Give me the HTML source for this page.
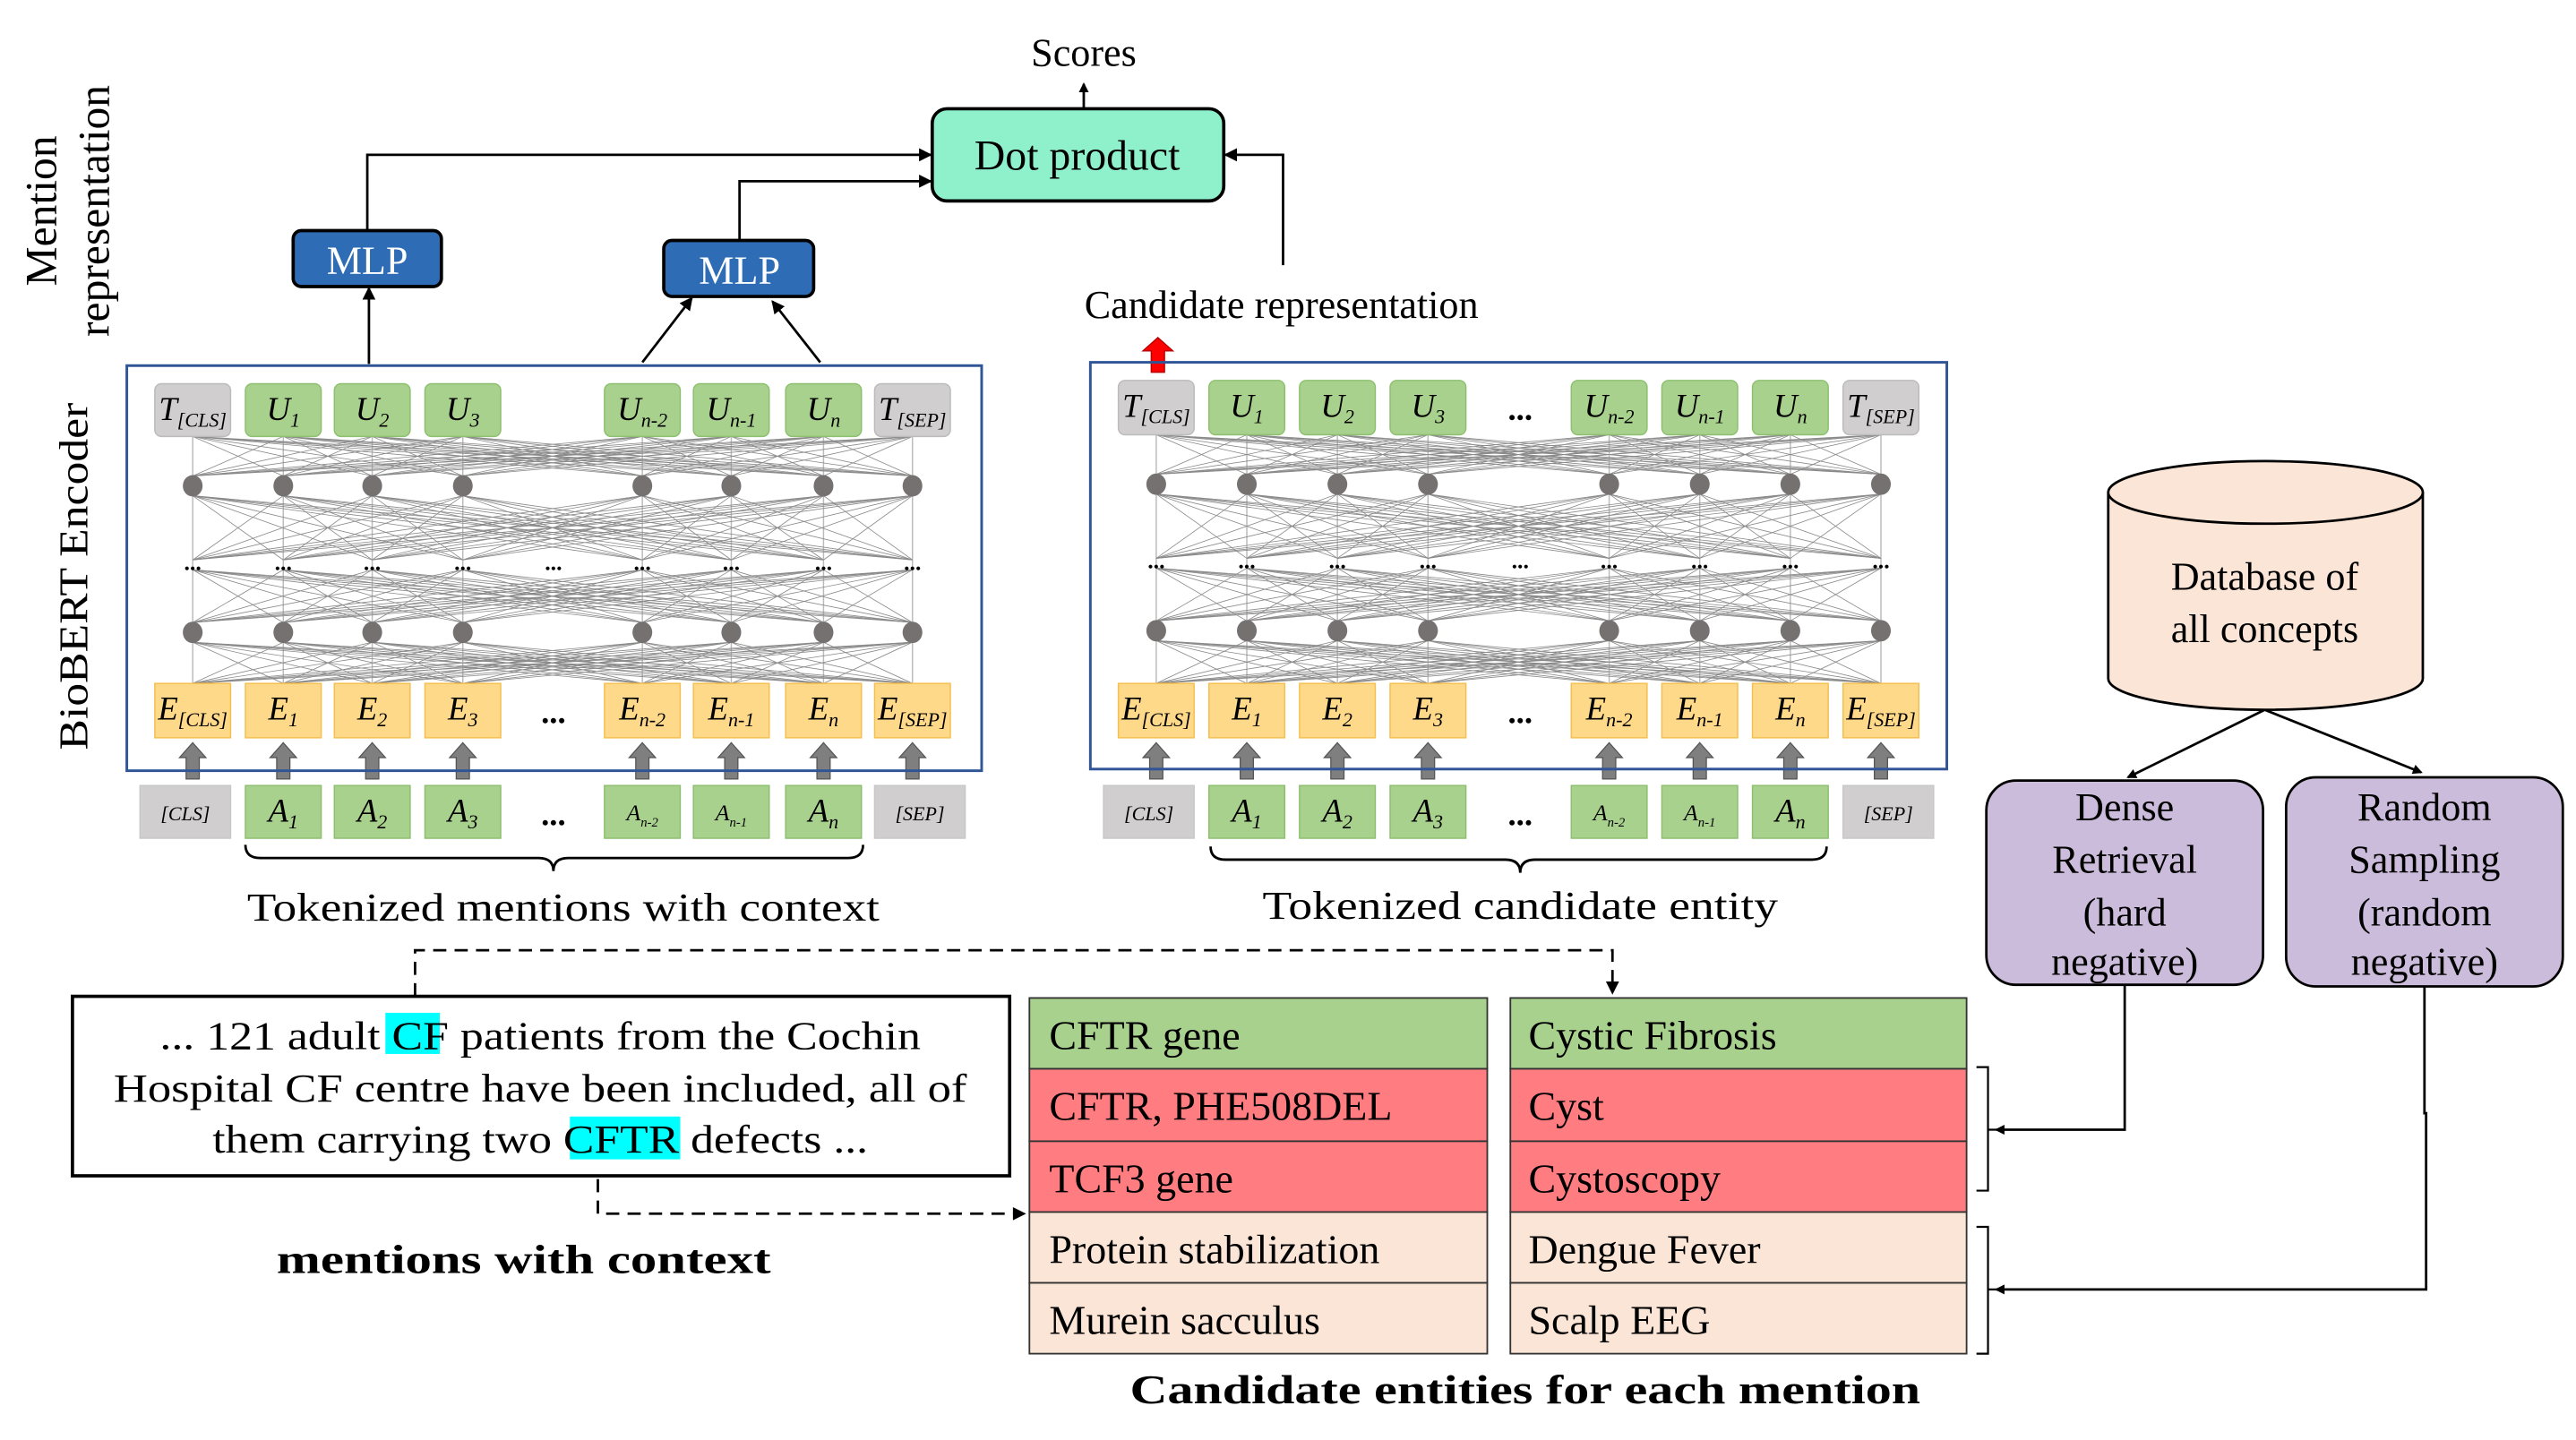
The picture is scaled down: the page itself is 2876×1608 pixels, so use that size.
<!DOCTYPE html>
<html><head><meta charset="utf-8">
<style>
html,body{margin:0;padding:0;background:#fff;}
svg{display:block;}
text{font-family:"Liberation Serif",serif;}
</style></head>
<body>
<svg id="s" xmlns="http://www.w3.org/2000/svg" width="2876" height="1608" viewBox="0 0 1564 874.4">
<defs>
<marker id="ah" markerWidth="8" markerHeight="8" refX="7" refY="4" orient="auto" markerUnits="userSpaceOnUse"><path d="M0,0 L8,4 L0,8 z" fill="#000"/></marker>
<marker id="ahs" markerWidth="6" markerHeight="6" refX="5" refY="3" orient="auto" markerUnits="userSpaceOnUse"><path d="M0,0 L6,3 L0,6 z" fill="#000"/></marker>
</defs>
<g id="mesh"></g>
<g id="tok"></g>

<text x="658" y="40" font-size="24" text-anchor="middle">Scores</text>
<line x1="658" y1="66" x2="658" y2="51" stroke="#000" stroke-width="1.5" marker-end="url(#ahs)"/>
<rect x="566" y="66" width="177" height="56" rx="9" fill="#8ff0cc" stroke="#000" stroke-width="2"/>
<text x="654" y="103" font-size="26" text-anchor="middle">Dot product</text>
<rect x="178" y="140" width="90" height="34" rx="5" fill="#2e6db5" stroke="#000" stroke-width="2"/>
<text x="223" y="166" font-size="24" fill="#fff" text-anchor="middle">MLP</text>
<rect x="403" y="146" width="91" height="34" rx="5" fill="#2e6db5" stroke="#000" stroke-width="2"/>
<text x="449" y="172" font-size="24" fill="#fff" text-anchor="middle">MLP</text>
<polyline points="223,140 223,94 565,94" fill="none" stroke="#000" stroke-width="1.5" marker-end="url(#ah)"/>
<polyline points="449,146 449,110 565,110" fill="none" stroke="#000" stroke-width="1.5" marker-end="url(#ah)"/>
<polyline points="779,161 779,94 744,94" fill="none" stroke="#000" stroke-width="1.5" marker-end="url(#ah)"/>
<line x1="224" y1="221" x2="224" y2="175" stroke="#000" stroke-width="1.5" marker-end="url(#ah)"/>
<line x1="390" y1="220" x2="420" y2="181" stroke="#000" stroke-width="1.5" marker-end="url(#ah)"/>
<line x1="498" y1="220" x2="469" y2="183" stroke="#000" stroke-width="1.5" marker-end="url(#ah)"/>
<text x="778" y="193" font-size="24" text-anchor="middle">Candidate representation</text>
<polygon points="703,205 712,213 707,213 707,226 699,226 699,213 694,213" fill="#ff0000" stroke="#b00" stroke-width="0.8"/>

<text transform="translate(34,128) rotate(-90)" font-size="27" text-anchor="middle">Mention</text>
<text transform="translate(66,128) rotate(-90)" font-size="27" text-anchor="middle">representation</text>
<text transform="translate(53,350) rotate(-90)" font-size="25" text-anchor="middle" textLength="211" lengthAdjust="spacingAndGlyphs">BioBERT Encoder</text>

<rect x="77" y="222" width="519" height="246" fill="none" stroke="#2f5597" stroke-width="1.6"/>
<rect x="662" y="220" width="520" height="247" fill="none" stroke="#2f5597" stroke-width="1.6"/>

<path d="M149,513 Q149,521 158,521 L327,521 Q336,521 336,529 Q336,521 345,521 L515,521 Q524,521 524,513" fill="none" stroke="#000" stroke-width="1.5"/>
<path d="M735,514 Q735,522 744,522 L914,522 Q923,522 923,530 Q923,522 932,522 L1100,522 Q1109,522 1109,514" fill="none" stroke="#000" stroke-width="1.5"/>
<text x="342" y="559" font-size="24" text-anchor="middle" textLength="384" lengthAdjust="spacingAndGlyphs">Tokenized mentions with context</text>
<text x="923" y="558" font-size="24" text-anchor="middle" textLength="313" lengthAdjust="spacingAndGlyphs">Tokenized candidate entity</text>

<path d="M1280,299 L1280,412 A95.5,19 0 0 0 1471,412 L1471,299" fill="#fbe5d6" stroke="#000" stroke-width="1.5"/>
<ellipse cx="1375.5" cy="299" rx="95.5" ry="19" fill="#fbe5d6" stroke="#000" stroke-width="1.5"/>
<text x="1375" y="358" font-size="24" text-anchor="middle">Database of</text>
<text x="1375" y="390" font-size="24" text-anchor="middle">all concepts</text>
<line x1="1375" y1="431" x2="1292" y2="472" stroke="#000" stroke-width="1.5" marker-end="url(#ahs)"/>
<line x1="1375" y1="431" x2="1470" y2="469" stroke="#000" stroke-width="1.5" marker-end="url(#ahs)"/>

<rect x="1206" y="474" width="168" height="124" rx="18" fill="#ccbcdb" stroke="#000" stroke-width="1.5"/>
<g font-size="24" text-anchor="middle">
<text x="1290" y="498">Dense</text><text x="1290" y="530">Retrieval</text><text x="1290" y="562">(hard</text><text x="1290" y="592">negative)</text>
</g>
<rect x="1388" y="472" width="168" height="127" rx="18" fill="#ccbcdb" stroke="#000" stroke-width="1.5"/>
<g font-size="24" text-anchor="middle">
<text x="1472" y="498">Random</text><text x="1472" y="530">Sampling</text><text x="1472" y="562">(random</text><text x="1472" y="592">negative)</text>
</g>
<polyline points="1290,598 1290,686 1212,686" fill="none" stroke="#000" stroke-width="1.5" marker-end="url(#ahs)"/>
<polyline points="1472,599 1472,676 1473,676 1473,783 1212,783" fill="none" stroke="#000" stroke-width="1.5" marker-end="url(#ahs)"/>
<path d="M1200,648 L1207,648 L1207,723 L1200,723 M1207,686 L1212,686" fill="none" stroke="#000" stroke-width="1.2"/>
<path d="M1200,745 L1207,745 L1207,822 L1200,822 M1207,783 L1212,783" fill="none" stroke="#000" stroke-width="1.2"/>

<g stroke="#333" stroke-width="1">
<rect x="625" y="606" width="278" height="43" fill="#a9d18e"/>
<rect x="625" y="649" width="278" height="44" fill="#ff7c80"/>
<rect x="625" y="693" width="278" height="43" fill="#ff7c80"/>
<rect x="625" y="736" width="278" height="43" fill="#fbe5d6"/>
<rect x="625" y="779" width="278" height="43" fill="#fbe5d6"/>
<rect x="917" y="606" width="277" height="43" fill="#a9d18e"/>
<rect x="917" y="649" width="277" height="44" fill="#ff7c80"/>
<rect x="917" y="693" width="277" height="43" fill="#ff7c80"/>
<rect x="917" y="736" width="277" height="43" fill="#fbe5d6"/>
<rect x="917" y="779" width="277" height="43" fill="#fbe5d6"/>
</g>
<g font-size="25">
<text x="637" y="637">CFTR gene</text>
<text x="637" y="680">CFTR, PHE508DEL</text>
<text x="637" y="724">TCF3 gene</text>
<text x="637" y="767">Protein stabilization</text>
<text x="637" y="810">Murein sacculus</text>
<text x="928" y="637">Cystic Fibrosis</text>
<text x="928" y="680">Cyst</text>
<text x="928" y="724">Cystoscopy</text>
<text x="928" y="767">Dengue Fever</text>
<text x="928" y="810">Scalp EEG</text>
</g>
<text x="926" y="852" font-size="25" font-weight="bold" text-anchor="middle" textLength="480" lengthAdjust="spacingAndGlyphs">Candidate entities for each mention</text>

<rect x="44" y="605" width="569" height="109" fill="#fff" stroke="#000" stroke-width="2"/>
<rect x="234" y="615" width="33" height="25" fill="#00ffff"/>
<rect x="346" y="678" width="67" height="26" fill="#00ffff"/>
<g font-size="24" text-anchor="middle">
<text x="328" y="637" textLength="462" lengthAdjust="spacingAndGlyphs">... 121 adult CF patients from the Cochin</text>
<text x="328" y="669" textLength="518" lengthAdjust="spacingAndGlyphs">Hospital CF centre have been included, all of</text>
<text x="328" y="700" textLength="398" lengthAdjust="spacingAndGlyphs">them carrying two CFTR defects ...</text>
</g>
<text x="318" y="773" font-size="25" font-weight="bold" text-anchor="middle" textLength="300" lengthAdjust="spacingAndGlyphs">mentions with context</text>
<polyline points="252,605 252,577 979,577 979,597" fill="none" stroke="#000" stroke-width="1.5" stroke-dasharray="8,5"/>
<path d="M975,596 L983,596 L979,604 z" fill="#000"/>
<polyline points="363,716 363,737 616,737" fill="none" stroke="#000" stroke-width="1.5" stroke-dasharray="8,5"/>
<path d="M615,733 L623,737 L615,741 z" fill="#000"/>

<script>
(function(){
var NS="http://www.w3.org/2000/svg";
var mesh=document.getElementById("mesh"), tok=document.getElementById("tok");
function el(p,tag,a,txt){var e=document.createElementNS(NS,tag);for(var k in a)e.setAttribute(k,a[k]);if(txt)e.textContent=txt;p.appendChild(e);return e;}
function label(x,y,main,sub,size){
  var t=el(tok,"text",{x:x,y:y,"font-size":size||18,"font-style":"italic","text-anchor":"middle"});
  var a=document.createElementNS(NS,"tspan");a.textContent=main;t.appendChild(a);
  if(sub){var b=document.createElementNS(NS,"tspan");b.setAttribute("font-size",Math.round((size||18)*0.6));b.setAttribute("dy","4");b.textContent=sub;t.appendChild(b);}
}
function enc(cx,mid,Y,right){
  var layers=[Y.topB,Y.n1,Y.d,Y.n2,Y.eT];
  cx.forEach(function(x){el(mesh,"line",{x1:x,y1:Y.topB,x2:x,y2:Y.eT,stroke:"#bbb","stroke-width":0.8});});
  for(var l=0;l<4;l++){
    var y1=layers[l]+(l==0?0:(l==2?3:6)), y2=layers[l+1]-(l==3?0:(l==1?3:6));
    cx.forEach(function(a){cx.forEach(function(b){if(a!=b)el(mesh,"line",{x1:a,y1:y1,x2:b,y2:y2,stroke:"#8a8a8a","stroke-width":0.45});});});
  }
  cx.forEach(function(x){
    el(tok,"ellipse",{cx:x,cy:Y.n1,rx:6,ry:6.5,fill:"#767171"});
    el(tok,"ellipse",{cx:x,cy:Y.n2,rx:6,ry:6.5,fill:"#767171"});
    el(tok,"text",{x:x,y:Y.d+3,"font-size":14,"font-weight":"bold","text-anchor":"middle"},"...");
  });
  el(tok,"text",{x:mid,y:Y.d+3,"font-size":14,"font-weight":"bold","text-anchor":"middle"},"...");
  var U=[["T","[CLS]"],["U","1"],["U","2"],["U","3"],["U","n-2"],["U","n-1"],["U","n"],["T","[SEP]"]];
  var E=[["E","[CLS]"],["E","1"],["E","2"],["E","3"],["E","n-2"],["E","n-1"],["E","n"],["E","[SEP]"]];
  var A=[["","[CLS]"],["A","1"],["A","2"],["A","3"],["A","n-2"],["A","n-1"],["A","n"],["","[SEP]"]];
  cx.forEach(function(x,i){
    var g=(i==0||i==7);
    el(tok,"rect",{x:x-23,y:Y.topT,width:46,height:Y.topB-Y.topT,rx:4,fill:g?"#d0cece":"#a9d18e",stroke:g?"#bbb":"#8cc06e","stroke-width":0.8});
    label(x,Y.topT+22,U[i][0],U[i][1],20);
    el(tok,"rect",{x:x-23,y:Y.eT,width:46,height:33,fill:"#ffd98a",stroke:"#f4bf4f","stroke-width":0.8});
    label(x,Y.eT+22,E[i][0],E[i][1],20);
    var ay=Y.eT+36, by=ay+22;
    el(tok,"polygon",{points:[x,ay, x+8,ay+9, x+4,ay+9, x+4,by, x-4,by, x-4,ay+9, x-8,ay+9].join(","),fill:"#7f7f7f",stroke:"#555","stroke-width":0.7});
    var w=g?55:46, ox=g?(i==0?-32:-23):-23;
    el(tok,"rect",{x:x+ox,y:Y.aT,width:w,height:32,fill:g?"#d0cece":"#a9d18e",stroke:g?"#c8c8c8":"#8cc06e","stroke-width":0.8});
    if(g){el(tok,"text",{x:x+ox+w/2,y:Y.aT+21,"font-size":12,"font-style":"italic","text-anchor":"middle"},A[i][1]);}
    else if(i>=4&&i<=5){label(x,Y.aT+21,A[i][0],A[i][1],14);}
    else label(x,Y.aT+22,A[i][0],A[i][1],20);
  });
  el(tok,"text",{x:mid,y:Y.eT+24,"font-size":20,"font-weight":"bold","text-anchor":"middle"},"...");
  el(tok,"text",{x:mid,y:Y.aT+24,"font-size":20,"font-weight":"bold","text-anchor":"middle"},"...");
  if(right) el(tok,"text",{x:mid,y:Y.topT+24,"font-size":20,"font-weight":"bold","text-anchor":"middle"},"...");
}
enc([117,172,226,281,390,444,500,554],336,{topT:233,topB:265,n1:295,d:343,n2:384,eT:415,aT:477},false);
enc([702,757,812,867,977,1032,1087,1142],923,{topT:231,topB:264,n1:294,d:342,n2:383,eT:415,aT:477},true);
})();
</script>
</svg>
</body></html>
